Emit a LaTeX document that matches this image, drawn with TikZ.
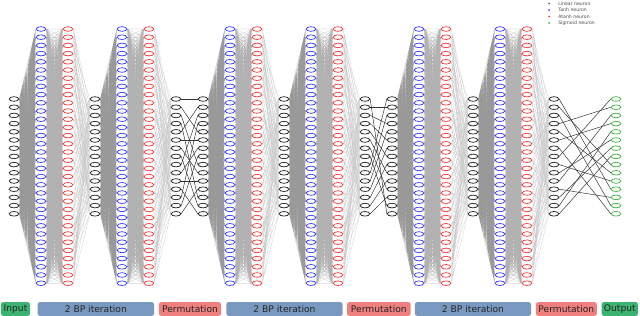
\documentclass[tikz,border=0pt]{standalone}
\usepackage{fontspec}
\setmainfont{DejaVu Sans}
\usepackage{tikz}
\usetikzlibrary{shapes,positioning,backgrounds}
\definecolor{tanhblue}{RGB}{60,60,255}
\definecolor{atanhred}{RGB}{250,60,60}
\definecolor{sigmgreen}{RGB}{70,180,70}
\definecolor{stageblue}{RGB}{122,153,192}
\definecolor{stagered}{RGB}{240,128,128}
\definecolor{stagegreen}{RGB}{60,179,113}

\begin{document}
\begin{tikzpicture}[x=0.025cm,y=-0.025cm,
    neuron/.style={ellipse,draw,fill=white,line width=0.55pt,inner sep=0pt,minimum width=0.24cm,minimum height=0.115cm},
    wdark/.style={black!40,line width=0.1pt},
    wmid/.style={black!30,line width=0.1pt},
    wlight/.style={black!22,line width=0.15pt},
    perm/.style={black!80,line width=0.35pt},
    legdot/.style={circle,inner sep=0pt,minimum size=0.05cm},
    legtxt/.style={anchor=west,inner sep=0pt,font=\fontsize{3.3}{4}\selectfont,text=black!70},
    stage/.style={rounded corners=1.5pt,inner sep=0pt,minimum height=0.34cm,font=\fontsize{6.5}{7}\selectfont,text=black!85}]
        \useasboundingbox (0,0) rectangle (640,316);

        % Linear neurons
        \foreach \k in {1,4,7,8,11,14,15,18,21}
            \foreach \i in {1,...,15}
                \node[neuron,draw=black!85] (n\k-\i) at ({14+27*(\k-1)},{99+8.2*(\i-1)}) {};
        % Tanh neurons
        \foreach \k in {2,5,9,12,16,19}
            \foreach \i in {1,...,32}
                \node[neuron,draw=tanhblue] (n\k-\i) at ({14+27*(\k-1)},{29+8.2*(\i-1)}) {};
        % Atanh neurons
        \foreach \k in {3,6,10,13,17,20}
            \foreach \i in {1,...,32}
                \node[neuron,draw=atanhred] (n\k-\i) at ({14+27*(\k-1)},{29+8.2*(\i-1)}) {};
        % Sigmoid neurons
        \foreach \i in {1,...,15}
            \node[neuron,draw=sigmgreen] (n22-\i) at (616,{99+8.2*(\i-1)}) {};

        \begin{scope}[on background layer]
            % Weights
            \foreach \p/\q/\np/\nq/\w in {1/2/15/32/wdark, 2/3/32/32/wmid,
                    4/5/15/32/wdark, 5/6/32/32/wmid,
                    8/9/15/32/wdark, 9/10/32/32/wmid,
                    11/12/15/32/wdark, 12/13/32/32/wmid,
                    15/16/15/32/wdark, 16/17/32/32/wmid,
                    18/19/15/32/wdark, 19/20/32/32/wmid}
                \draw[\w] foreach \i in {1,...,\np} {foreach \j in {1,...,\nq} {(n\p-\i.east) -- (n\q-\j.west)}};
            \foreach \p/\q in {3/4, 6/7, 10/11, 13/14, 17/18, 20/21}
                \foreach \j in {1,...,32} {
                    \pgfmathtruncatemacro\ta{mod(\j,15)+1}
                    \pgfmathtruncatemacro\tb{mod(4*\j+3,15)+1}
                    \pgfmathtruncatemacro\tc{mod(11*\j+7,15)+1}
                    \draw[wlight] (n\p-\j.east) -- (n\q-\ta.west) (n\p-\j.east) -- (n\q-\tb.west)
                        (n\p-\j.east) -- (n\q-\tc.west);
                }
            % Permutations
            \foreach \i/\j in {1/1,2/5,3/9,4/13,5/2,6/6,7/10,8/14,9/3,10/7,11/11,12/15,13/4,14/8,15/12}
                \draw[perm] (n7-\i.east) -- (n8-\j.west);
            \foreach \i/\j in {1/15,2/2,3/4,4/6,5/8,6/10,7/12,8/14,9/1,10/3,11/5,12/7,13/9,14/11,15/13}
                \draw[perm] (n14-\i.east) -- (n15-\j.west);
            \foreach \i/\j in {1/12,2/9,3/14,4/2,5/10,6/4,7/15,8/1,9/11,10/6,11/3,12/13,13/7,14/5,15/8}
                \draw[perm] (n21-\i.east) -- (n22-\j.west);
        \end{scope}

        % Legend
        \node[legdot,fill=black!60] (m1) at (549,3.5) {};
        \node[legdot,fill=tanhblue] (m2) at (549,10) {};
        \node[legdot,fill=atanhred] (m3) at (549,16.5) {};
        \node[legdot,fill=sigmgreen] (m4) at (549,23) {};
        \node[legtxt] (l1) at (558,3.5) {Linear neuron};
        \node[legtxt] (l2) at (558,10) {Tanh neuron};
        \node[legtxt] (l3) at (558,16.5) {Atanh neuron};
        \node[legtxt] (l4) at (558,23) {Sigmoid neuron};

        % Stages
        \node[stage,fill=stagegreen,minimum width=0.725cm] (s1) at (15.5,309) {Input};
        \node[stage,fill=stageblue,minimum width=2.91cm] (s2) at (95.85,309) {2 BP iteration};
        \node[stage,fill=stagered,minimum width=1.55cm] (s3) at (190,309) {Permutation};
        \node[stage,fill=stageblue,minimum width=2.91cm] (s4) at (284.5,309) {2 BP iteration};
        \node[stage,fill=stagered,minimum width=1.59cm] (s5) at (378.85,309) {Permutation};
        \node[stage,fill=stageblue,minimum width=2.9cm] (s6) at (473,309) {2 BP iteration};
        \node[stage,fill=stagered,minimum width=1.52cm] (s7) at (566.35,309) {Permutation};
        \node[stage,fill=stagegreen,minimum width=0.91cm] (s8) at (619.85,309) {Output};
    \end{tikzpicture}
\end{document}
